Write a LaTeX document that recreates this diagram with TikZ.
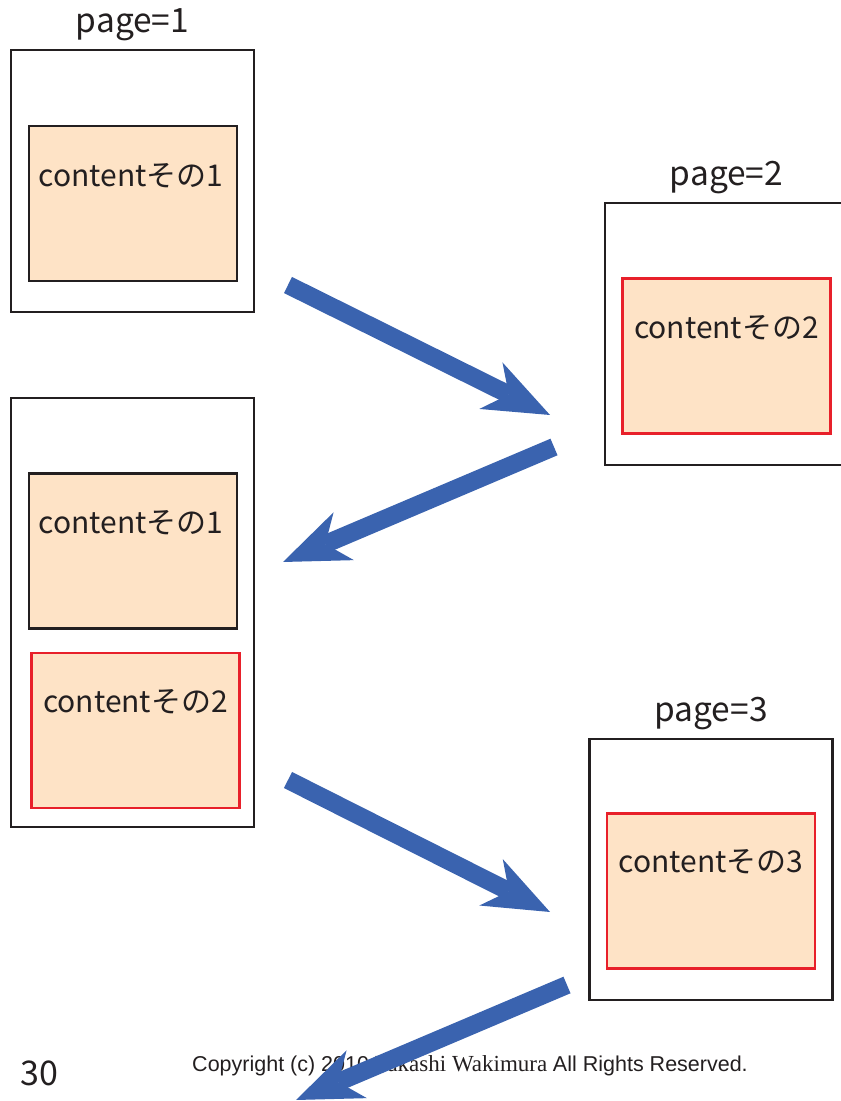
\documentclass[tikz,border=0pt]{standalone}
\usepackage{fontspec}
\newfontfamily\jpfont{Noto Sans CJK JP}
\newfontfamily\copyfont{Liberation Sans}
\newfontfamily\copyserif{Liberation Serif}
\usetikzlibrary{arrows.meta,positioning}
\definecolor{contentfill}{HTML}{FEE3C6}
\definecolor{arrowblue}{HTML}{3A63AF}
\definecolor{contentred}{HTML}{E8202A}
\definecolor{framegray}{HTML}{231F20}

\begin{document}
\begin{tikzpicture}[x=1pt,y=1pt,
    pagebox/.style={draw=framegray,line width=2.7pt,minimum width=243pt,inner sep=0pt},
    contentbox/.style={draw=#1,fill=contentfill,line width=2.2pt,minimum width=208pt,minimum height=155pt,inner sep=0pt},
    contenttext/.style={font=\jpfont\fontsize{30}{32}\selectfont,text=framegray,inner sep=0pt},
    pagelabel/.style={font=\jpfont\fontsize{33.5}{35}\selectfont,text=framegray,inner sep=0pt},
    bigarrow/.style={draw=arrowblue,line width=18pt,
        -{Stealth[length=66pt,width=52pt,inset=20pt,line width=0pt]}}]
    \useasboundingbox (0,0) rectangle (841,1101);

    % page 1
    \node[pagebox,minimum height=262pt] (p1) at (132.5,920) {};
    \node[pagelabel,above=8pt of p1] (l1) {page=1};
    \node[contentbox=framegray] (c1) at (133,897.5) {};
    \node[contenttext] (t1) at (131,925) {contentその1};

    % page 2
    \node[pagebox,minimum height=262pt] (p2) at (726.5,767) {};
    \node[pagelabel,above=8pt of p2] (l2) {page=2};
    \node[contentbox=contentred] (c2) at (726.5,745) {};
    \node[contenttext] (t2) at (726.5,773) {contentその2};

    % page 1 + page 2
    \node[pagebox,minimum height=429pt] (p12) at (132.5,488.5) {};
    \node[contentbox=framegray] (c1b) at (133,550) {};
    \node[contenttext] (t1b) at (131,578) {contentその1};
    \node[contentbox=contentred] (c2b) at (135.5,370.5) {};
    \node[contenttext] (t2b) at (135.5,399) {contentその2};

    % page 3
    \node[pagebox,minimum height=261pt] (p3) at (711,231.5) {};
    \node[pagelabel,above=8pt of p3] (l3) {page=3};
    \node[contentbox=contentred] (c3) at (711,210) {};
    \node[contenttext] (t3) at (711,239) {contentその3};

    % footer
    \node[font=\jpfont\fontsize{34}{36}\selectfont,text=framegray] (num) at (39,28) {30};
    \node[font=\fontsize{21.5}{23}\selectfont,text=framegray] (copy) at (470,35)
        {\copyfont Copyright (c) 2010 \copyserif\fontsize{23}{25}\selectfont Takashi Wakimura \copyfont\fontsize{21.5}{23}\selectfont All Rights Reserved.};

    % arrows
    \coordinate (a1s) at (288,816);
    \coordinate (a1e) at (550,686);
    \coordinate (a2s) at (554,654);
    \coordinate (a2e) at (283,539);
    \coordinate (a3s) at (288,321);
    \coordinate (a3e) at (550,189);
    \coordinate (a4s) at (567,116);
    \coordinate (a4e) at (296,1);

    \draw[bigarrow] (a1s) -- (a1e);
    \draw[bigarrow] (a2s) -- (a2e);
    \draw[bigarrow] (a3s) -- (a3e);
    \draw[bigarrow] (a4s) -- (a4e);
\end{tikzpicture}
\end{document}
